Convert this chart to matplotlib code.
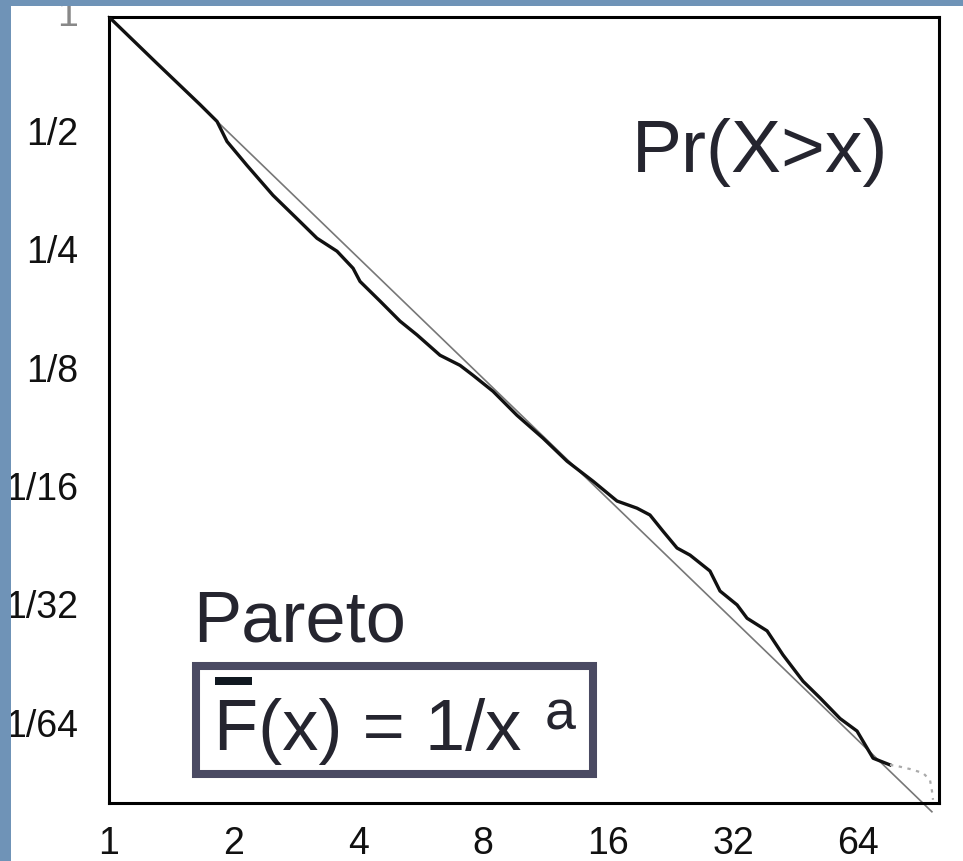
import numpy as np
import matplotlib
matplotlib.use("Agg")
import matplotlib.pyplot as plt
import matplotlib.transforms as mtransforms
from matplotlib.patches import Rectangle
from matplotlib.ticker import NullLocator

plt.rcParams['font.family'] = ['Liberation Sans', 'DejaVu Sans']

emp_x = [1.0, 1.30, 1.662, 1.826, 1.930, 2.157, 2.491, 2.893, 3.179, 3.553, 3.884,
         4.037, 4.510, 5.040, 5.539, 6.292, 7.031, 7.554, 8.445, 9.645, 11.14,
         12.73, 14.71, 16.80, 18.77, 20.17, 21.69, 23.44, 25.19, 28.14, 29.75,
         32.71, 34.57, 38.63, 42.20, 47.16, 51.83, 57.90, 63.63, 69.55, 76.40]
emp_y = [1.0, 0.765, 0.597, 0.541, 0.481, 0.418, 0.351, 0.301, 0.273, 0.253, 0.229,
         0.212, 0.189, 0.168, 0.155, 0.1376, 0.1297, 0.1224, 0.1114, 0.0968, 0.0847,
         0.0740, 0.0658, 0.0586, 0.0562, 0.0540, 0.0491, 0.0445, 0.0427, 0.0389, 0.0346,
         0.0319, 0.0295, 0.0274, 0.0238, 0.0204, 0.0185, 0.0164, 0.01524, 0.0130, 0.0125]

# sparse last few points (drawn faint)
tail_x = [76.40, 79.43, 85.38, 91.78, 95.39, 96.45, 97.0]
tail_y = [0.0125, 0.01242, 0.01220, 0.01192, 0.01144, 0.01072, 0.01019]

# fitted straight line on log-log
ref_x = [1.0, 96.4]
ref_y = [1.0, 0.0095]

xticks = [1, 2, 4, 8, 16, 32, 64]
xlabels = ['1', '2', '4', '8', '16', '32', '64']
yticks = [1, 1/2, 1/4, 1/8, 1/16, 1/32, 1/64]
ylabels = ['1', '1/2', '1/4', '1/8', '1/16', '1/32', '1/64']

W, H = 963, 862
fig = plt.figure(figsize=(W / 100, H / 100), dpi=100)
fig.patch.set_facecolor('white')

# axes box in pixels: left 108.5, right 938.5, top 17.5, bottom 804
ax = fig.add_axes([108.5 / W, 1 - 804 / H, 830 / W, 786.5 / H])
ax.set_xscale('log')
ax.set_yscale('log')
ax.set_xlim(1, 100)
ax.set_ylim(0.01, 1)

ax.plot(ref_x, ref_y, color='#777777', lw=1.2, clip_on=False, zorder=2)
ax.plot(emp_x, emp_y, color='#111111', lw=2.4, solid_joinstyle='round', zorder=3)
ax.plot(tail_x, tail_y, color='#aaaaaa', lw=1.6, ls=(0, (1.5, 2.5)), zorder=3)

ax.set_xticks(xticks)
ax.set_xticklabels(xlabels)
ax.set_yticks(yticks)
ax.set_yticklabels(ylabels)
ax.xaxis.set_minor_locator(NullLocator())
ax.yaxis.set_minor_locator(NullLocator())
ax.tick_params(axis='both', length=0, labelsize=27, colors='#111111')
ax.tick_params(axis='x', pad=16)
ax.tick_params(axis='y', pad=22)

# y labels sit a few pixels high in the original
shift = mtransforms.ScaledTranslation(0, 5 / 100, fig.dpi_scale_trans)
for i, lab in enumerate(ax.get_yticklabels()):
    lab.set_transform(lab.get_transform() + shift)
    if i == 0:
        lab.set_color('#888888')

for sp in ax.spines.values():
    sp.set_linewidth(2.2)
    sp.set_color('black')

txt = '#25252f'
fig.text(632 / W, 1 - 172 / H, 'Pr(X>x)', fontsize=54, color=txt, ha='left', va='baseline')
fig.text(193 / W, 1 - 642 / H, 'Pareto', fontsize=52, color=txt, ha='left', va='baseline')

# formula box
fig.patches.append(Rectangle((196 / W, 1 - 775 / H), 397 / W, 108 / H,
                             transform=fig.transFigure, fill=False,
                             edgecolor='#4a4a62', lw=5.8))
fig.text(214 / W, 1 - 750 / H, 'F(x) = 1/x', fontsize=52, color=txt, ha='left', va='baseline')
fig.text(545 / W, 1 - 730 / H, 'a', fontsize=40, color=txt, ha='left', va='baseline')
fig.patches.append(Rectangle((215 / W, 1 - 686 / H), 37 / W, 8 / H,
                             transform=fig.transFigure, color='#101820', lw=0))

# slide frame strips
frame = '#6f93b7'
fig.patches.append(Rectangle((0, 0), 11 / W, 1, transform=fig.transFigure,
                             color=frame, lw=0, zorder=5))
fig.patches.append(Rectangle((0, 1 - 7 / H), 1, 7 / H, transform=fig.transFigure,
                             color=frame, lw=0, zorder=5))

fig.savefig('out.png', dpi=100)
